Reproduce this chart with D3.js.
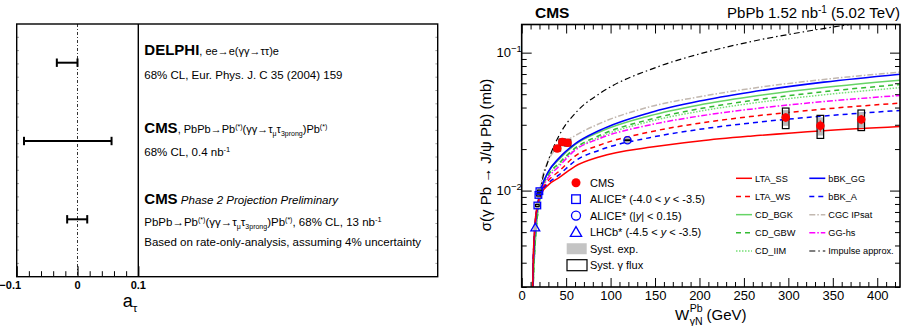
<!DOCTYPE html>
<html><head><meta charset="utf-8">
<script src="https://cdn.jsdelivr.net/npm/d3@7"></script>
<style>
body{margin:0;background:#fff}
svg{display:block;font-family:"Liberation Sans",Arial,Helvetica,sans-serif}
</style></head><body>
<svg id="c" width="904" height="326"></svg>
<script>
// ---------------- LEFT PANEL DATA ----------------
const aTauExperiments = ["DELPHI", "CMS", "CMS Phase 2"];
const aTauLow  = [-0.034, -0.088, -0.017];
const aTauHigh = [ 0.000,  0.056,  0.016];
const aTauMajorTicks = [-0.1, 0, 0.1];
const aTauTickLabels = ["\u22120.1", "0", "0.1"];

// ---------------- RIGHT PANEL DATA ----------------
const modelW = [12, 13, 15, 18, 22, 30, 42, 60, 88, 144, 200, 257, 340, 430];
const LTA_SS  = [0.0015,0.0032,0.0058,0.0080,0.0095,0.0110,0.0124,0.0150,0.0176,0.0206,0.0229,0.0248,0.0272,0.0293];
const LTA_WS  = [0.0015,0.0030,0.0055,0.0078,0.0097,0.0118,0.0138,0.0178,0.0214,0.0266,0.0308,0.0344,0.0390,0.0433];
const CD_BGK  = [0.0012,0.0021,0.0040,0.0070,0.0100,0.0136,0.0168,0.0215,0.0267,0.0349,0.0418,0.0479,0.0559,0.0635];
const CD_GBW  = [0.0012,0.0021,0.0040,0.0068,0.0098,0.0130,0.0158,0.0203,0.0252,0.0328,0.0392,0.0448,0.0521,0.0591];
const CD_IIM  = [0.0012,0.0021,0.0040,0.0068,0.0097,0.0128,0.0155,0.0199,0.0245,0.0317,0.0376,0.0428,0.0495,0.0560];
const bBK_GG  = [0.0015,0.0030,0.0055,0.0080,0.0104,0.0137,0.0172,0.0218,0.0274,0.0367,0.0446,0.0517,0.0611,0.0702];
const bBK_A   = [0.0015,0.0030,0.0055,0.0078,0.0096,0.0113,0.0130,0.0164,0.0197,0.0242,0.0278,0.0309,0.0347,0.0383];
const CGC_IPsat = [0.0015,0.0028,0.0050,0.0078,0.0115,0.0165,0.0210,0.0250,0.0307,0.0405,0.0479,0.0549,0.0640,0.0726];
const GG_hs   = [0.0015,0.0028,0.0052,0.0076,0.0098,0.0124,0.0150,0.0196,0.0239,0.0299,0.0347,0.0389,0.0442,0.0492];
const impulseW     = [11, 12, 13, 15, 18.5, 24, 28, 32, 42, 63, 88, 152, 200, 260, 317, 369, 430];
const impulseSigma = [0.0016,0.0021,0.0030,0.0046,0.0080,0.0125,0.0152,0.0180,0.0250,0.0380,0.0506,0.0785,0.0979,0.121,0.1415,0.160,0.181];

const cmsW     = [40.0, 45.7, 51.5, 297, 336, 382];
const cmsSigma = [0.0202, 0.0225, 0.0222, 0.0339, 0.0295, 0.0328];
const cmsStat  = [0.0005, 0.0005, 0.0005, 0.0025, 0.0028, 0.0025];
const cmsSystExp  = [0.06, 0.06, 0.06, 0.13, 0.15, 0.13];
const cmsSystFlux = [0.04, 0.05, 0.05, 0.17, 0.19, 0.17];
const aliceFwdW     = [17.6, 18.8, 19.9];
const aliceFwdSigma = [0.0078, 0.0093, 0.0099];
const aliceFwdSyst  = [0.06, 0.06, 0.06];
const aliceMidW     = [119];
const aliceMidSigma = [0.0232];
const aliceMidSyst  = [0.05];
const lhcbW     = [15.3];
const lhcbSigma = [0.0054];
const lhcbSyst  = [0.06];

const xMajor = d3.range(0, 401, 50);
const xMinor = d3.range(0, 426, 10).filter(v => v % 50 !== 0);
const yMajor = [0.01, 0.1];
const yMajorLabels = ["\u22122", "\u22121"];
const yMinor = [0.002,0.003,0.004,0.005,0.006,0.007,0.008,0.009,0.02,0.03,0.04,0.05,0.06,0.07,0.08,0.09];

const modelNames = ["LTA_SS","LTA_WS","CD_BGK","CD_GBW","CD_IIM","bBK_GG","bBK_A","CGC IPsat","GG-hs","Impulse approx."];
const modelValues = [LTA_SS, LTA_WS, CD_BGK, CD_GBW, CD_IIM, bBK_GG, bBK_A, CGC_IPsat, GG_hs, null];

// ---------------- HELPERS ----------------
const svg = d3.select("#c");
function rich(g, x, y, segs, base, anchor) {
  const t = g.append("text").attr("x", x).attr("y", y).attr("font-size", base).attr("fill", "#000");
  if (anchor) t.attr("text-anchor", anchor);
  let cur = 0;
  segs.forEach(s => {
    const off = s.sup ? -base * 0.38 : s.sub ? base * 0.3 : 0;
    const ts = t.append("tspan").attr("dy", off - cur).text(s.t);
    cur = off;
    if (s.size) ts.attr("font-size", s.size);
    else if (s.sup || s.sub) ts.attr("font-size", base * 0.68);
    if (s.b) ts.attr("font-weight", "bold");
    if (s.i) ts.attr("font-style", "italic");
  });
  return t;
}

// ---------------- LEFT PANEL ----------------
const L = svg.append("g");
const xa = d3.scaleLinear().domain([-0.1, 0.1]).range([16.7, 138.3]);
const rowY = d3.scalePoint().domain(aTauExperiments).range([62.7, 219.3]);
const Lt = 24, Lb = 276.7, Lr = 437.7;

// edge small ticks
const edgeScale = d3.scaleLinear().domain([0, 19]).range([Lb, Lt]);
const edgeTicks = d3.range(1, 19);
L.selectAll(".le").data(edgeTicks).join("line")
  .attr("x1", 16.7).attr("x2", 19).attr("y1", d => edgeScale(d)).attr("y2", d => edgeScale(d))
  .attr("stroke", "#777").attr("stroke-width", 0.7);
L.selectAll(".re").data(edgeTicks).join("line")
  .attr("x1", Lr - 2.3).attr("x2", Lr).attr("y1", d => edgeScale(d)).attr("y2", d => edgeScale(d))
  .attr("stroke", "#777").attr("stroke-width", 0.7);

// zero line
L.append("line").attr("x1", xa(0)).attr("x2", xa(0)).attr("y1", Lt).attr("y2", Lb)
  .attr("stroke", "#333").attr("stroke-width", 1).attr("stroke-dasharray", "3,2,1,2");

// bottom axis ticks
const xaMinor = d3.range(-0.08, 0.081, 0.02).filter(v => Math.abs(v) > 1e-6);
L.append("g").attr("transform", `translate(0,${Lb})`)
  .call(d3.axisBottom(xa).tickValues(xaMinor).tickSize(-5.5).tickFormat(""))
  .call(g => g.select(".domain").remove())
  .selectAll("line").attr("stroke", "#000").attr("stroke-width", 1);
L.append("g").attr("transform", `translate(0,${Lb})`)
  .call(d3.axisBottom(xa).tickValues(aTauMajorTicks).tickSize(-10.5).tickFormat(""))
  .call(g => g.select(".domain").remove())
  .selectAll("line").attr("stroke", "#000").attr("stroke-width", 1.2);
L.selectAll(".tl").data(aTauMajorTicks).join("text")
  .attr("x", (d, i) => xa(d) + (d < 0 ? -6.5 : 0)).attr("y", 288.5)
  .attr("text-anchor", "middle").attr("font-size", 11).attr("font-weight", "bold")
  .text((d, i) => aTauTickLabels[i]);
rich(L, 122.7, 307, [{t: "a"}, {t: "\u03c4", sub: true, size: 11.5}], 18);

// error bars
L.selectAll(".eb").data(aTauExperiments).join("line")
  .attr("x1", (d, i) => xa(aTauLow[i])).attr("x2", (d, i) => xa(aTauHigh[i]))
  .attr("y1", d => rowY(d)).attr("y2", d => rowY(d)).attr("stroke", "#000").attr("stroke-width", 2);
[aTauLow, aTauHigh].forEach(arr => {
  L.selectAll(null).data(aTauExperiments).join("line")
    .attr("x1", (d, i) => xa(arr[i])).attr("x2", (d, i) => xa(arr[i]))
    .attr("y1", d => rowY(d) - 4.2).attr("y2", d => rowY(d) + 4.2)
    .attr("stroke", "#000").attr("stroke-width", 2);
});

// frame
L.append("rect").attr("x", 16.7).attr("y", Lt).attr("width", Lr - 16.7).attr("height", Lb - Lt)
  .attr("fill", "none").attr("stroke", "#000").attr("stroke-width", 1.4);
L.append("line").attr("x1", 138.3).attr("x2", 138.3).attr("y1", Lt).attr("y2", Lb)
  .attr("stroke", "#000").attr("stroke-width", 1.4);

// texts
const tx = 144.3;
rich(L, tx, 55, [{t: "DELPHI", b: true, size: 15}, {t: ", ee\u2192e(\u03b3\u03b3\u2192\u03c4\u03c4)e", size: 11}], 11);
rich(L, tx, 79, [{t: "68% CL, Eur. Phys. J. C 35 (2004) 159"}], 11.5);
rich(L, tx, 133, [{t: "CMS", b: true, size: 15}, {t: ", PbPb\u2192Pb", size: 11}, {t: "(*)", sup: true, size: 7},
  {t: "(\u03b3\u03b3\u2192\u03c4", size: 11}, {t: "\u03bc", sub: true, size: 7}, {t: "\u03c4", size: 11},
  {t: "3prong", sub: true, size: 7}, {t: ")Pb", size: 11}, {t: "(*)", sup: true, size: 7}], 11);
rich(L, tx, 156, [{t: "68% CL, 0.4 nb"}, {t: "-1", sup: true, size: 7.5}], 11.5);
rich(L, tx, 203.5, [{t: "CMS", b: true, size: 15}, {t: " Phase 2 Projection Preliminary", i: true, size: 11.5}], 11.5);
rich(L, tx, 226, [{t: "PbPb\u2192Pb"}, {t: "(*)", sup: true, size: 7}, {t: "(\u03b3\u03b3\u2192\u03c4"}, {t: "\u03bc", sub: true, size: 7},
  {t: "\u03c4"}, {t: "3prong", sub: true, size: 7}, {t: ")Pb"}, {t: "(*)", sup: true, size: 7},
  {t: ", 68% CL, 13 nb"}, {t: "-1", sup: true, size: 7.5}], 11.5);
rich(L, tx, 245.5, [{t: "Based on rate-only-analysis, assuming 4% uncertainty"}], 11.5);

// ---------------- RIGHT PANEL ----------------
const R = svg.append("g");
const X0 = 521.7, X1 = 900, Y0 = 287, Y1 = 24.5;
const x = d3.scaleLinear().domain([0, 425.6]).range([X0, X1]);
const y = d3.scaleLog().domain([0.002, 0.16]).range([Y0, Y1]);

R.append("clipPath").attr("id", "clipR").append("rect")
  .attr("x", X0).attr("y", Y1).attr("width", X1 - X0).attr("height", Y0 - Y1);

function axisG(axis, tx, ty) {
  const g = R.append("g").attr("transform", `translate(${tx},${ty})`).call(axis);
  g.select(".domain").remove();
  g.selectAll("line").attr("stroke", "#000").attr("stroke-width", 1);
  return g;
}
// x axes
const xb = axisG(d3.axisBottom(x).tickValues(xMajor).tickSize(-9).tickPadding(4).tickFormat(d3.format("d")), 0, Y0);
xb.selectAll("text").attr("font-size", 13).attr("font-family", "Liberation Sans, Arial, sans-serif").attr("fill", "#000");
axisG(d3.axisBottom(x).tickValues(xMinor).tickSize(-5).tickFormat(""), 0, Y0);
axisG(d3.axisTop(x).tickValues(xMajor).tickSize(-9).tickFormat(""), 0, Y1);
axisG(d3.axisTop(x).tickValues(xMinor).tickSize(-5).tickFormat(""), 0, Y1);
// y axes
axisG(d3.axisLeft(y).tickValues(yMajor).tickSize(-10).tickFormat(""), X0, 0);
axisG(d3.axisLeft(y).tickValues(yMinor).tickSize(-5).tickFormat(""), X0, 0);
axisG(d3.axisRight(y).tickValues(yMajor).tickSize(-10).tickFormat(""), X1, 0);
axisG(d3.axisRight(y).tickValues(yMinor).tickSize(-5).tickFormat(""), X1, 0);
yMajor.forEach((v, i) => {
  rich(R, 496.5, y(v) + 4.5, [{t: "10"}, {t: yMajorLabels[i], sup: true, size: 9.5}], 13);
});

// x axis title
{
  const tW = R.append("text").attr("x", 675).attr("y", 320).attr("font-size", 15).text("W");
  const wW = tW.node().getComputedTextLength();
  const sx = 675 + wW + 0.5;
  const tSup = R.append("text").attr("x", sx).attr("y", 311.5).attr("font-size", 10.5).text("Pb");
  const tSub = R.append("text").attr("x", sx).attr("y", 325).attr("font-size", 10.5).text("\u03b3N");
  const w2 = Math.max(tSup.node().getComputedTextLength(), tSub.node().getComputedTextLength());
  R.append("text").attr("x", sx + w2 + 4).attr("y", 320).attr("font-size", 15).text("(GeV)");
}
R.append("text").attr("transform", "translate(491,155) rotate(-90)")
  .attr("text-anchor", "middle").attr("font-size", 15).text("\u03c3(\u03b3 Pb \u2192 J/\u03c8 Pb) (mb)");
// header
R.append("text").attr("x", 535).attr("y", 18.3).attr("font-size", 15.5).attr("font-weight", "bold").text("CMS");
rich(R, 900, 18.3, [{t: "PbPb 1.52 nb"}, {t: "-1", sup: true, size: 10}, {t: " (5.02 TeV)"}], 15, "end");

// model curves
const styles = [
  {c: "#ff0000", d: null, w: 1.5},
  {c: "#ff0000", d: "5,4", w: 1.5},
  {c: "#66d466", d: null, w: 1.5},
  {c: "#33bb33", d: "5,4", w: 1.5},
  {c: "#77e077", d: "1.5,1.5", w: 1.5},
  {c: "#0000ff", d: null, w: 1.6},
  {c: "#0000ff", d: "5,4", w: 1.5},
  {c: "#c2b8b0", d: "6,2,1.5,2", w: 1.5},
  {c: "#ff00ff", d: "6,2,1.5,2", w: 1.5},
  {c: "#000000", d: "6,3,1.5,3", w: 1.2}
];
const line = d3.line().x(d => x(d[0])).y(d => y(d[1])).curve(d3.curveMonotoneX);
const curvesG = R.append("g").attr("clip-path", "url(#clipR)");
const drawOrder = [7, 9, 2, 4, 3, 8, 1, 6, 5, 0];
drawOrder.forEach(k => {
  const pts = modelValues[k] ? modelW.map((w, i) => [w, modelValues[k][i]]) : impulseW.map((w, i) => [w, impulseSigma[i]]);
  const p = curvesG.append("path").attr("d", line(pts)).attr("fill", "none")
    .attr("stroke", styles[k].c).attr("stroke-width", styles[k].w);
  if (styles[k].d) p.attr("stroke-dasharray", styles[k].d);
});

// data
const dataG = R.append("g").attr("clip-path", "url(#clipR)");
function boxes(W, S, exp, flux, hwG, hwB) {
  dataG.selectAll(null).data(W).join("rect")
    .attr("x", d => x(d - hwG)).attr("width", d => x(d + hwG) - x(d - hwG))
    .attr("y", (d, i) => y(S[i] * (1 + exp[i]))).attr("height", (d, i) => y(S[i] * (1 - exp[i])) - y(S[i] * (1 + exp[i])))
    .attr("fill", "#b8b8b8");
  if (flux) dataG.selectAll(null).data(W).join("rect")
    .attr("x", d => x(d - hwB)).attr("width", d => x(d + hwB) - x(d - hwB))
    .attr("y", (d, i) => y(S[i] * (1 + flux[i]))).attr("height", (d, i) => Math.max(0.5, y(S[i] * (1 - flux[i])) - y(S[i] * (1 + flux[i]))))
    .attr("fill", "none").attr("stroke", "#000").attr("stroke-width", 1.2);
}
boxes(cmsW, cmsSigma, cmsSystExp, cmsSystFlux, 3.2, 3.7);
boxes(aliceFwdW, aliceFwdSigma, aliceFwdSyst, aliceFwdSyst.map(v => v * 0.3), 2.0, 2.0);
boxes(aliceMidW, aliceMidSigma, aliceMidSyst, aliceMidSyst.map(v => v * 0.1), 3.5, 3.5);
boxes(lhcbW, lhcbSigma, lhcbSyst, null, 2.0, 2.0);
dataG.selectAll(null).data(cmsW).join("line")
  .attr("x1", d => x(d)).attr("x2", d => x(d))
  .attr("y1", (d, i) => y(cmsSigma[i] + cmsStat[i])).attr("y2", (d, i) => y(cmsSigma[i] - cmsStat[i]))
  .attr("stroke", "#ff3030").attr("stroke-width", 1.3);
dataG.selectAll(null).data(cmsW).join("circle")
  .attr("cx", d => x(d)).attr("cy", (d, i) => y(cmsSigma[i])).attr("r", 4.3).attr("fill", "#ff0000");
dataG.selectAll(null).data(aliceFwdW).join("rect")
  .attr("x", d => x(d) - 3.3).attr("y", (d, i) => y(aliceFwdSigma[i]) - 3.3).attr("width", 6.6).attr("height", 6.6)
  .attr("fill", "none").attr("stroke", "#0000ff").attr("stroke-width", 1.3);
dataG.selectAll(null).data(aliceMidW).join("circle")
  .attr("cx", d => x(d)).attr("cy", (d, i) => y(aliceMidSigma[i])).attr("r", 3.6)
  .attr("fill", "none").attr("stroke", "#0000ff").attr("stroke-width", 1.3);
const tri = d3.symbol().type(d3.symbolTriangle).size(34);
dataG.selectAll(null).data(lhcbW).join("path")
  .attr("transform", (d, i) => `translate(${x(d)},${y(lhcbSigma[i]) + 0.8})`).attr("d", tri())
  .attr("fill", "none").attr("stroke", "#0000ff").attr("stroke-width", 1.3);

// frame
R.append("rect").attr("x", X0).attr("y", Y1).attr("width", X1 - X0).attr("height", Y0 - Y1)
  .attr("fill", "none").attr("stroke", "#000").attr("stroke-width", 1.6);

// legend left
const legL = ["CMS", "ALICE fwd", "ALICE mid", "LHCb", "Syst. exp.", "Syst. flux"];
const ly = d3.scalePoint().domain(legL).range([182.7, 265]);
const mx = 576, ltx = 590;
R.append("circle").attr("cx", mx).attr("cy", ly("CMS")).attr("r", 4.5).attr("fill", "#ff0000");
R.append("rect").attr("x", mx - 4.3).attr("y", ly("ALICE fwd") - 4.3).attr("width", 8.6).attr("height", 8.6)
  .attr("fill", "none").attr("stroke", "#0000ff").attr("stroke-width", 1.3);
R.append("circle").attr("cx", mx).attr("cy", ly("ALICE mid")).attr("r", 4.5)
  .attr("fill", "none").attr("stroke", "#0000ff").attr("stroke-width", 1.3);
R.append("path").attr("transform", `translate(${mx},${ly("LHCb") + 1})`).attr("d", d3.symbol().type(d3.symbolTriangle).size(55)())
  .attr("fill", "none").attr("stroke", "#0000ff").attr("stroke-width", 1.3);
R.append("rect").attr("x", 566.7).attr("y", ly("Syst. exp.") - 5.3).attr("width", 20).attr("height", 11).attr("fill", "#c4c4c4");
R.append("rect").attr("x", 567).attr("y", ly("Syst. flux") - 5.3).attr("width", 20).attr("height", 11)
  .attr("fill", "none").attr("stroke", "#000").attr("stroke-width", 1.2);
const lf = 11;
rich(R, ltx, ly("CMS") + 4, [{t: "CMS"}], lf);
rich(R, ltx, ly("ALICE fwd") + 4, [{t: "ALICE* (-4.0 < "}, {t: "y", i: true}, {t: " < -3.5)"}], lf);
rich(R, ltx, ly("ALICE mid") + 4, [{t: "ALICE* (|"}, {t: "y", i: true}, {t: "| < 0.15)"}], lf);
rich(R, ltx, ly("LHCb") + 4, [{t: "LHCb* (-4.5 < "}, {t: "y", i: true}, {t: " < -3.5)"}], lf);
rich(R, ltx, ly("Syst. exp.") + 4, [{t: "Syst. exp."}], lf);
rich(R, ltx, ly("Syst. flux") + 4, [{t: "Syst. \u03b3 flux"}], lf);

// legend right (models)
const rowsR = d3.scalePoint().domain(d3.range(5)).range([178.3, 251]);
const colX = [736, 809.3];
modelNames.forEach((n, k) => {
  const col = Math.floor(k / 5), row = k % 5;
  const yy = rowsR(row);
  const l = R.append("line").attr("x1", colX[col]).attr("x2", colX[col] + 16).attr("y1", yy).attr("y2", yy)
    .attr("stroke", styles[k].c).attr("stroke-width", styles[k].w);
  if (styles[k].d) l.attr("stroke-dasharray", styles[k].d);
  R.append("text").attr("x", colX[col] + 19).attr("y", yy + 3.3).attr("font-size", 9.2).text(n);
});
</script></body></html>
